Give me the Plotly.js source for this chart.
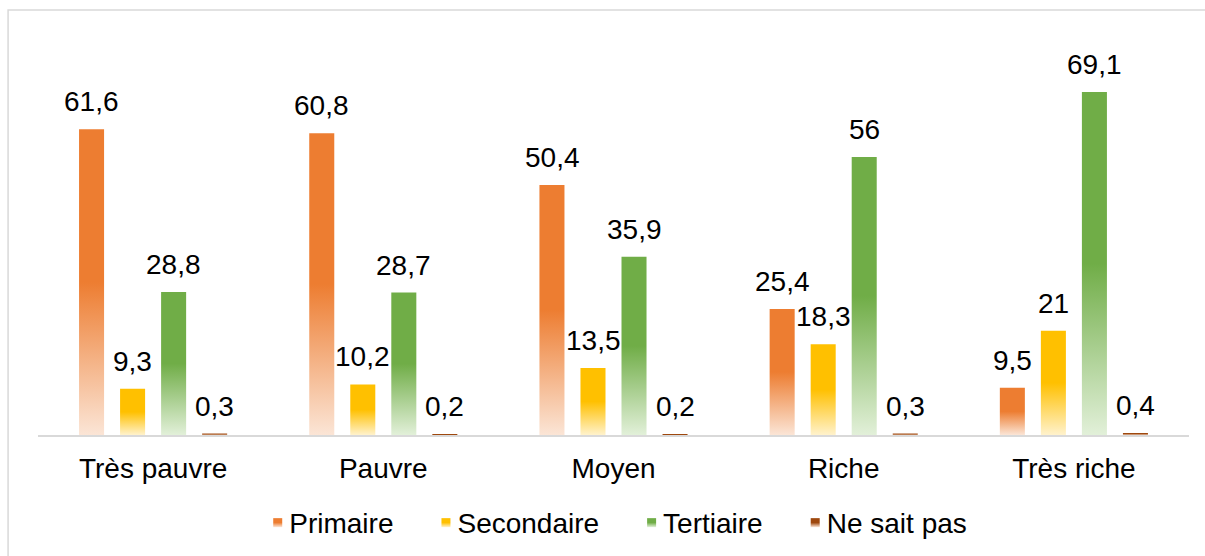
<!DOCTYPE html>
<html>
<head>
<meta charset="utf-8">
<script src="https://cdn.plot.ly/plotly-3.0.1.min.js"></script>
<style>
  html, body { margin: 0; padding: 0; background: #fff; }
  #chart { width: 1205px; height: 556px; }
</style>
</head>
<body>
<div id="chart"></div>
<script>
// ---- data ----
var categories = ["Très pauvre", "Pauvre", "Moyen", "Riche", "Très riche"];
var seriesNames = ["Primaire", "Secondaire", "Tertiaire", "Ne sait pas"];
var primaire   = [61.6, 60.8, 50.4, 25.4, 9.5];
var secondaire = [9.3, 10.2, 13.5, 18.3, 21];
var tertiaire  = [28.8, 28.7, 35.9, 56, 69.1];
var neSaitPas  = [0.3, 0.2, 0.2, 0.3, 0.4];

var seriesValues = [primaire, secondaire, tertiaire, neSaitPas];
var solidColors = ["#ED7D31", "#FFC000", "#70AD47", "#9E480E"];
var lightColors = ["#FBE5D6", "#FFF2CC", "#E2F0D9", "#FBE5D6"];

var FONT = '"Liberation Sans", Arial, sans-serif';
var FS = 28;
var fmt = function (v) { return String(v).replace('.', ','); };

var traces = seriesValues.map(function (vals, i) {
  return {
    type: 'bar',
    name: seriesNames[i],
    x: categories,
    y: vals,
    marker: { color: solidColors[i], line: { width: 0 } },
    hoverinfo: 'none'
  };
});

var slot = 41; // px per bar slot inside a group
var annotations = [];
seriesValues.forEach(function (vals, i) {
  vals.forEach(function (v, j) {
    annotations.push({
      x: categories[j], y: v, xref: 'x', yref: 'y',
      text: fmt(v), showarrow: false,
      yanchor: 'bottom', xanchor: 'center',
      xshift: (i - 1.5) * slot, yshift: 10,
      font: { family: FONT, size: FS, color: '#000' }
    });
  });
});

var layout = {
  width: 1205, height: 556,
  margin: { l: 38, r: 16, t: 38, b: 121, autoexpand: false },
  paper_bgcolor: '#fff', plot_bgcolor: '#fff',
  barmode: 'group', bargap: 0.287, bargroupgap: 0.39,
  showlegend: true,
  legend: {
    orientation: 'h', x: 0.505, xanchor: 'center', y: -0.219, yanchor: 'middle',
    font: { family: FONT, size: FS, color: '#000' },
    itemwidth: 30, traceorder: 'normal'
  },
  xaxis: {
    type: 'category', showline: true, linecolor: '#D9D9D9', linewidth: 1.5,
    ticks: '', showgrid: false, zeroline: false,
    tickfont: { family: FONT, size: FS, color: '#000' },
    ticklabelstandoff: 8
  },
  yaxis: { range: [0, 80], visible: false, showgrid: false, zeroline: false },
  annotations: annotations,
  shapes: [{
    type: 'rect', xref: 'paper', yref: 'paper',
    x0: -0.026, x1: 1.1, y0: -0.4, y1: 1.0705,
    line: { color: '#D9D9D9', width: 1.5 }, fillcolor: 'rgba(0,0,0,0)', layer: 'below'
  }]
};

Plotly.newPlot('chart', traces, layout, { staticPlot: true, displayModeBar: false }).then(function (gd) {
  var svg = gd.querySelector('.main-svg');
  var ns = 'http://www.w3.org/2000/svg';
  var defs = svg.querySelector('defs') || svg.insertBefore(document.createElementNS(ns, 'defs'), svg.firstChild);
  solidColors.forEach(function (c, i) {
    var g = document.createElementNS(ns, 'linearGradient');
    g.setAttribute('id', 'barGrad' + i);
    g.setAttribute('x1', '0'); g.setAttribute('y1', '0');
    g.setAttribute('x2', '0'); g.setAttribute('y2', '1');
    [[0, c], [0.5, c], [1, lightColors[i]]].forEach(function (s) {
      var st = document.createElementNS(ns, 'stop');
      st.setAttribute('offset', s[0]);
      st.setAttribute('stop-color', s[1]);
      g.appendChild(st);
    });
    defs.appendChild(g);
  });
  gd.querySelectorAll('.barlayer .trace').forEach(function (t, i) {
    t.querySelectorAll('path').forEach(function (p) { p.style.fill = 'url(#barGrad' + i + ')'; });
  });

  // legend: tighter symbol/text spacing like the reference
  var legend = gd.querySelector('.legend');
  legend.removeAttribute('clip-path');
  legend.querySelectorAll('[clip-path]').forEach(function (el) { el.removeAttribute('clip-path'); });
  var items = legend.querySelectorAll('.traces');
  var widths = [];
  items.forEach(function (t) { widths.push(t.querySelector('text').getBBox().width); });
  var SQ = 9, GAP_ST = 7, GAP_ITEM = 48;
  var total = 0;
  widths.forEach(function (w, i) { total += SQ + GAP_ST + w + (i < widths.length - 1 ? GAP_ITEM : 0); });
  var m = /translate\(\s*([-\d.]+)[ ,]+([-\d.]+)/.exec(legend.getAttribute('transform'));
  var lx = m ? parseFloat(m[1]) : 0;
  var scroll = legend.querySelector('.scrollbox');
  var sm = scroll ? /translate\(\s*([-\d.]+)[ ,]+([-\d.]+)/.exec(scroll.getAttribute('transform') || '') : null;
  var sx = sm ? parseFloat(sm[1]) : 0;
  var centerAbs = 620;
  var sqLeftAbs = centerAbs - total / 2;
  items.forEach(function (t, i) {
    var tm = /translate\(\s*([-\d.]+)[ ,]+([-\d.]+)/.exec(t.getAttribute('transform'));
    var ty = tm ? parseFloat(tm[2]) : 0;
    var ox = (sqLeftAbs + SQ + GAP_ST) - 40 - lx - sx;
    t.setAttribute('transform', 'translate(' + ox + ',' + ty + ')');
    t.querySelectorAll('.legendpoints path').forEach(function (p) {
      p.setAttribute('d', 'M-4.5,-4.5H4.5V4.5H-4.5Z');
      p.style.fill = 'url(#barGrad' + i + ')';
      p.style.stroke = 'none';
      p.setAttribute('transform', 'translate(' + (40 - GAP_ST - SQ / 2) + ',1)');
    });
    t.querySelectorAll('.legendpoints').forEach(function (lp) { lp.removeAttribute('transform'); });
    sqLeftAbs += SQ + GAP_ST + widths[i] + GAP_ITEM;
  });
  var bg = legend.querySelector('.bg');
  if (bg) bg.style.display = 'none';
});
</script>
</body>
</html>
